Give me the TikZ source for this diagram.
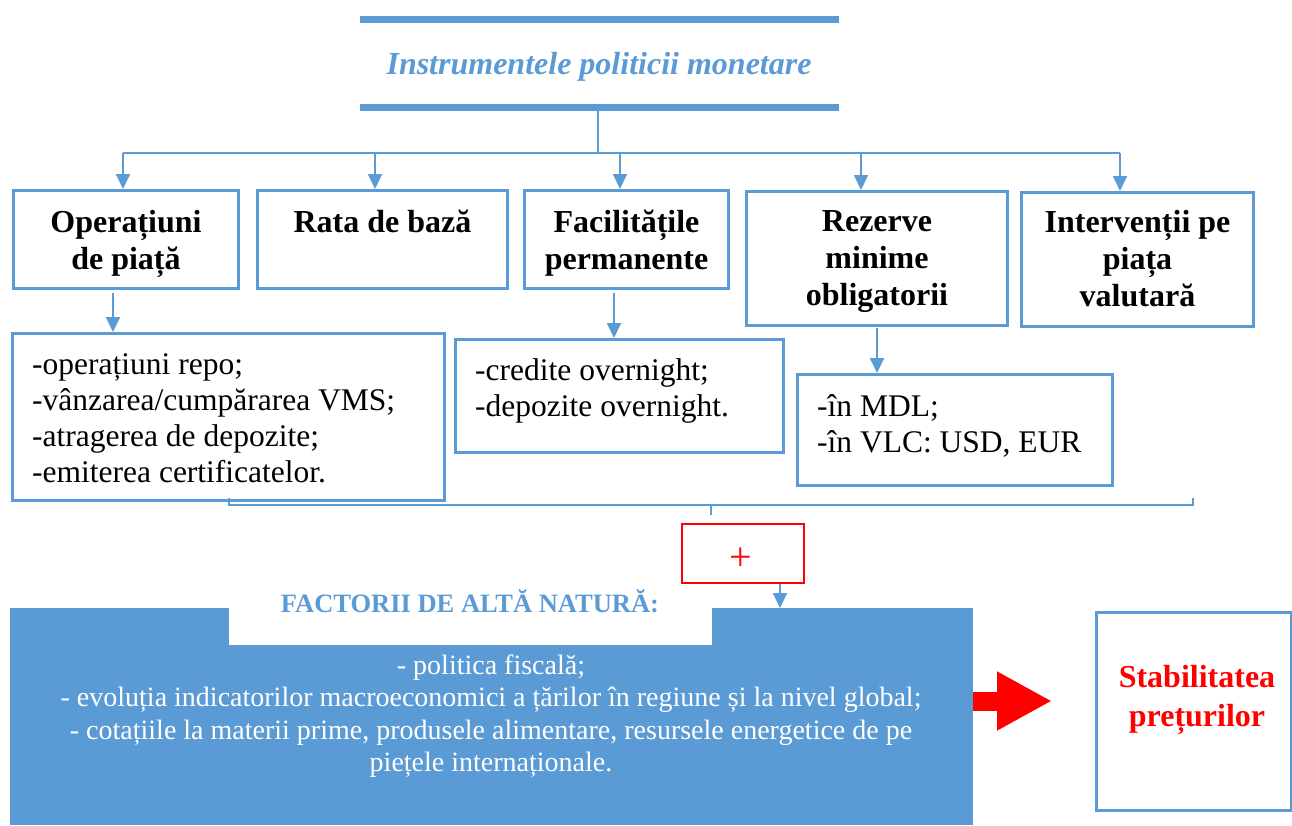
\documentclass[tikz,border=0pt]{standalone}
\usepackage{fontspec}
\setmainfont{Liberation Serif}
\usetikzlibrary{arrows.meta,calc}
\definecolor{accent}{HTML}{5B9BD5}
\definecolor{alarm}{HTML}{FF0000}

\begin{document}
\begin{tikzpicture}[x=1pt,y=-1pt,
  frame/.style={draw=accent, line width=3pt, rectangle, inner sep=0pt, anchor=north west},
  bar/.style={fill=accent, rectangle, inner sep=0pt, minimum width=479pt, minimum height=7pt, anchor=north west},
  link/.style={draw=accent, line width=1.8pt},
  thinlink/.style={draw=accent, line width=1.3pt},
  tip/.style={-{Triangle[length=15pt,width=14pt]}},
  headtext/.style={font=\fontsize{32}{37}\selectfont\bfseries, align=center, anchor=north, inner sep=0pt},
  listtext/.style={font=\fontsize{31.5}{36}\selectfont, align=left, anchor=north west, inner sep=0pt},
]
\useasboundingbox (0,0) rectangle (1292,825);

% title with the two bars
\node[bar] (bartop) at (360,16) {};
\node[bar] (barbot) at (360,104) {};
\node[font=\fontsize{32}{37}\selectfont\bfseries\itshape, text=accent, inner sep=0pt] (title) at (599,67) {Instrumentele politicii monetare};

% the five instruments
\node[frame, minimum width=225pt, minimum height=98pt] (b1) at (12,189) {};
\node[frame, minimum width=250pt, minimum height=98pt] (b2) at (256,189) {};
\node[frame, minimum width=204pt, minimum height=98pt] (b3) at (523,189) {};
\node[frame, minimum width=261pt, minimum height=134pt] (b4) at (745,190) {};
\node[frame, minimum width=232pt, minimum height=134pt] (b5) at (1020,191) {};

\node[headtext] (b1t) at ($(b1.north)+(0,21)$) {Operațiuni\\de piață};
\node[headtext] (b2t) at ($(b2.north)+(0,21)$) {Rata de bază};
\node[headtext] (b3t) at ($(b3.north)+(0,21)$) {Facilitățile\\permanente};
\node[headtext] (b4t) at ($(b4.north)+(0,20)$) {Rezerve\\minime\\obligatorii};
\node[headtext] (b5t) at ($(b5.north)+(0,19)$) {Intervenții pe\\piața\\valutară};

% branching from the title
\coordinate (fork) at (598,153);
\coordinate (t1) at (123,153);
\coordinate (t2) at (375,153);
\coordinate (t3) at (620,153);
\coordinate (t4) at (861,153);
\coordinate (t5) at (1120,153);
\draw[link] (barbot.south -| fork) -- (fork);
\draw[link] (t1) -- (t5);
\draw[link,tip] (t1) -- (t1 |- b1.north);
\draw[link,tip] (t2) -- (t2 |- b2.north);
\draw[link,tip] (t3) -- (t3 |- b3.north);
\draw[link,tip] (t4) -- (t4 |- b4.north);
\draw[link,tip] (t5) -- (t5 |- b5.north);

% detail boxes
\node[frame, minimum width=432pt, minimum height=167pt] (l1) at (11,332) {};
\node[frame, minimum width=328pt, minimum height=113pt] (l2) at (454,338) {};
\node[frame, minimum width=315pt, minimum height=111pt] (l3) at (796,373) {};

\node[listtext] (l1t) at ($(l1.north west)+(21,21)$) {-operațiuni repo;\\-vânzarea/cumpărarea VMS;\\-atragerea de depozite;\\-emiterea certificatelor.};
\node[listtext] (l2t) at ($(l2.north west)+(21,20)$) {-credite overnight;\\-depozite overnight.};
\node[listtext] (l3t) at ($(l3.north west)+(21,21)$) {-în MDL;\\-în VLC: USD, EUR};

\coordinate (d1) at (113,0);
\coordinate (d3) at (614,0);
\coordinate (d4) at (877,0);
\draw[link,tip] ($(d1 |- b1.south)+(0,3)$) -- (d1 |- l1.north);
\draw[link,tip] ($(d3 |- b3.south)+(0,3)$) -- (d3 |- l2.north);
\draw[link,tip] ($(d4 |- b4.south)+(0,1)$) -- (d4 |- l3.north);

% brace gathering the instruments
\coordinate (brl) at (229,498);
\coordinate (brr) at (1193,498);
\coordinate (brm) at (711,505);
\draw[thinlink] (brl) -- (brl |- brm) -- (brr |- brm) -- (brr);
\draw[thinlink] (brm) -- ++(0,10);

% plus sign
\node[draw=alarm, line width=1.5pt, rectangle, inner sep=0pt, minimum width=122pt, minimum height=59pt, anchor=north west] (plus) at (681,523) {};
\node[text=alarm, font=\fontsize{40}{40}\selectfont, inner sep=0pt] (plust) at (741,559) {+};

% other factors
\node[fill=accent, rectangle, inner sep=0pt, minimum width=963pt, minimum height=217pt, anchor=north west] (factors) at (10,608) {};
\node[fill=white, rectangle, inner sep=0pt, minimum width=483pt, minimum height=50pt, anchor=north west] (notch) at (229,595) {};
\node[text=accent, font=\fontsize{26.5}{28}\selectfont\bfseries, inner sep=0pt] (factt) at (470,601) {FACTORII DE ALTĂ NATURĂ:};
\node[text=white, font=\fontsize{28}{32.5}\selectfont, align=center, inner sep=0pt] (factb) at (491,716)
  {- politica fiscală;\\- evoluția indicatorilor macroeconomici a țărilor în regiune și la nivel global;\\- cotațiile la materii prime, produsele alimentare, resursele energetice de pe\\piețele internaționale.};

\coordinate (pd) at (780,0);
\draw[link,tip] (pd |- plus.south) -- (pd |- factors.north);

% result
\node[frame, minimum width=195pt, minimum height=198pt] (stab) at (1095,611) {};
\node[text=alarm, font=\fontsize{32}{39}\selectfont\bfseries, align=center, inner sep=0pt] (stabt) at (1197,700) {Stabilitatea\\prețurilor};

\coordinate (rtip) at (1052,701);
\draw[alarm, line width=19pt, -{Triangle[length=55pt,width=55pt]}] (factors.east |- rtip) -- (rtip);
\end{tikzpicture}
\end{document}
